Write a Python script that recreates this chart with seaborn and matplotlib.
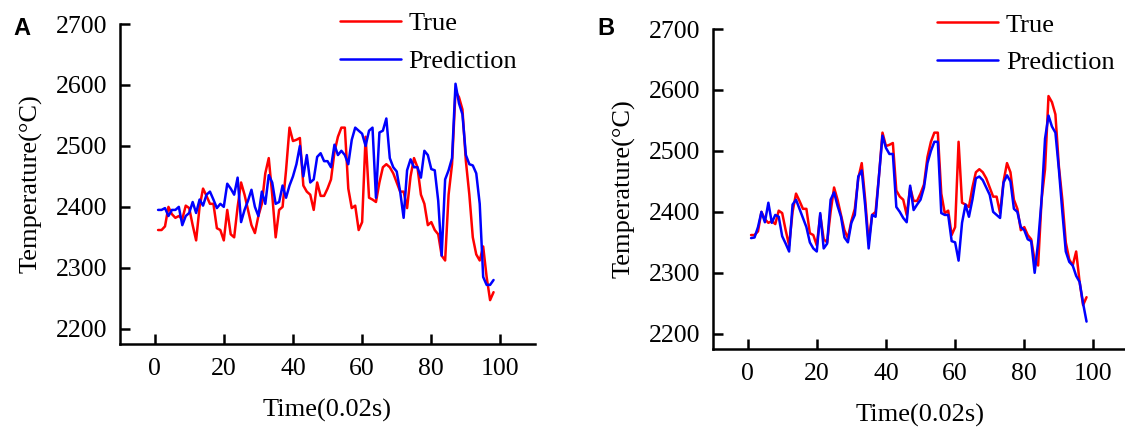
"""
True vs predicted furnace temperature, two models side by side (A, B).
"""
import numpy as np
import pandas as pd
import matplotlib
matplotlib.use("Agg")
import matplotlib.pyplot as plt
import seaborn as sns

# time steps (0.02 s each)
time_steps = list(range(1, 99))

# measured temperature, same series in both panels
true_temp = [
    2362, 2362, 2368, 2400, 2388, 2382, 2385, 2380, 2402, 2398,
    2370, 2345, 2400, 2430, 2418, 2405, 2405, 2365, 2362, 2345,
    2395, 2355, 2350, 2400, 2440, 2420, 2395, 2370, 2357, 2385,
    2405, 2455, 2480, 2420, 2350, 2395, 2400, 2460, 2530, 2508,
    2510, 2513, 2435, 2425, 2420, 2395, 2440, 2418, 2418, 2430,
    2445, 2490, 2515, 2530, 2530, 2430, 2398, 2402, 2362, 2375,
    2515, 2415, 2412, 2408, 2440, 2465, 2470, 2465, 2455, 2440,
    2425, 2425, 2398, 2450, 2480, 2465, 2420, 2405, 2370, 2375,
    2362, 2355, 2320, 2312, 2420, 2470, 2590, 2580, 2560, 2475,
    2420, 2350, 2322, 2312, 2335, 2285, 2247, 2260,
]

# prediction of model A
pred_a = [
    2395, 2395, 2398, 2385, 2395, 2395, 2400, 2370, 2385, 2390,
    2408, 2390, 2412, 2402, 2420, 2425, 2412, 2398, 2405, 2400,
    2438, 2430, 2420, 2448, 2375, 2395, 2410, 2428, 2400, 2385,
    2425, 2405, 2452, 2440, 2405, 2408, 2435, 2415, 2435, 2450,
    2470, 2500, 2450, 2485, 2440, 2445, 2482, 2488, 2475, 2475,
    2465, 2502, 2485, 2492, 2485, 2470, 2510, 2530, 2525, 2520,
    2500, 2525, 2530, 2415, 2522, 2525, 2545, 2480, 2465, 2458,
    2425, 2382, 2460, 2478, 2465, 2465, 2448, 2492, 2485, 2462,
    2460, 2410, 2320, 2445, 2460, 2480, 2602, 2570, 2552, 2485,
    2470, 2468, 2455, 2405, 2285, 2272, 2272, 2280,
]

# prediction of model B
pred_b = [
    2357, 2358, 2375, 2400, 2383, 2415, 2382, 2395, 2392, 2360,
    2348, 2335, 2412, 2420, 2405, 2390, 2375, 2350, 2340, 2335,
    2398, 2340, 2348, 2420, 2432, 2410, 2392, 2358, 2350, 2382,
    2395, 2458, 2468, 2410, 2340, 2395, 2392, 2460, 2525, 2505,
    2495, 2495, 2408, 2400, 2390, 2383, 2443, 2403, 2412, 2420,
    2440, 2480, 2500, 2515, 2515, 2398, 2395, 2395, 2352, 2350,
    2320, 2382, 2412, 2392, 2420, 2455, 2458, 2452, 2440, 2428,
    2400, 2395, 2390, 2448, 2460, 2450, 2405, 2400, 2375, 2370,
    2355, 2352, 2300, 2350, 2420, 2520, 2558, 2540, 2530, 2470,
    2400, 2335, 2318, 2312, 2295, 2285, 2250, 2220,
]

x_ticks = [0, 20, 40, 60, 80, 100]
y_ticks = [2200, 2300, 2400, 2500, 2600, 2700]

sns.set_style("ticks")
plt.rcParams['font.family'] = ['Liberation Serif', 'DejaVu Serif']
plt.rcParams['text.color'] = 'black'
plt.rcParams['axes.labelcolor'] = 'black'
plt.rcParams['xtick.color'] = 'black'
plt.rcParams['ytick.color'] = 'black'

fig = plt.figure(figsize=(11.25, 4.32), dpi=100)

panels = [
    ('A', pred_a, [0.1067, 0.2037, 0.3689, 0.7407], (0.53, 1.038), 0.012),
    ('B', pred_b, [0.6338, 0.1921, 0.3689, 0.7407], (0.54, 1.05), 0.531),
]

for letter, pred, rect, leg_anchor, letter_x in panels:
    ax = fig.add_axes(rect)
    df = pd.DataFrame({
        'Time': time_steps * 2,
        'Temperature': true_temp + pred,
        'Series': ['True'] * len(time_steps) + ['Prediction'] * len(time_steps),
    })
    sns.lineplot(data=df, x='Time', y='Temperature', hue='Series',
                 palette={'True': '#ff0000', 'Prediction': '#0000ff'},
                 linewidth=1.8, ax=ax)

    ax.set_xlim(-10, 110)
    ax.set_ylim(2175, 2700)
    ax.set_xticks(x_ticks)
    ax.set_yticks(y_ticks)
    ax.tick_params(direction='in', length=7, width=1.8, labelsize=18.5)
    ax.tick_params(axis='x', pad=10)
    ax.tick_params(axis='y', pad=9)
    for side in ['top', 'right']:
        ax.spines[side].set_visible(False)
    for side in ['left', 'bottom']:
        ax.spines[side].set_linewidth(1.8)
        ax.spines[side].set_color('black')

    ax.set_xlabel('Time(0.02s)', fontsize=19, labelpad=14)
    ax.set_ylabel('Temperature(°C)', fontsize=19, labelpad=10)

    ax.legend(loc='upper left', bbox_to_anchor=leg_anchor, frameon=False,
              fontsize=19, handlelength=2.3, handletextpad=0.3,
              labelspacing=0.55, borderpad=0, borderaxespad=0)

    fig.text(letter_x, 0.935, letter, fontsize=17, fontweight='bold',
             family='Liberation Sans', va='center', ha='left')

fig.savefig('out.png', dpi=100)
plt.close(fig)
